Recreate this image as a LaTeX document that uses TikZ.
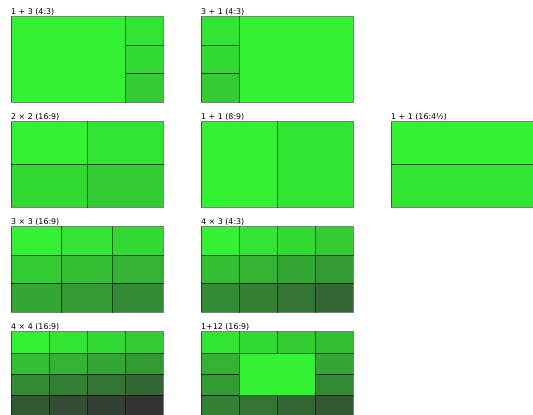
\documentclass[tikz,border=0pt]{standalone}
\usepackage{fontspec}
\newfontfamily\lblfont{DejaVu Sans}
\tikzset{
  cellstyle/.style={draw=black, draw opacity=0.5, line width=0.8pt},
  lbl/.style={anchor=base west, inner sep=0pt, font=\lblfont\fontsize{7.9}{9}\selectfont}
}
\newcommand\cellbox[5]{%
  \pgfmathtruncatemacro\gval{round(242-#5*191/15)}%
  \path[cellstyle, fill={rgb,255:red,51;green,\gval;blue,51}] (#1,#2) rectangle ++(#3,#4);}
\begin{document}
\begin{tikzpicture}[x=1pt,y=-1pt]
\useasboundingbox (0,0) rectangle (533,415);
\clip (0,0) rectangle (533,415);
% 1 + 3
\begin{scope}[shift={(11,16.75)}]
  \node[lbl] (l13) at (0,-2) {1 + 3 (4:3)};
  \cellbox{0}{0}{114}{85.5}{0}
  \cellbox{114}{0}{38}{28.5}{1}
  \cellbox{114}{28.5}{38}{28.5}{2}
  \cellbox{114}{57}{38}{28.5}{3}
\end{scope}
% 3 + 1
\begin{scope}[shift={(201,16.75)}]
  \node[lbl] (l31) at (0,-2) {3 + 1 (4:3)};
  \cellbox{0}{0}{38}{28.5}{1}
  \cellbox{0}{28.5}{38}{28.5}{2}
  \cellbox{0}{57}{38}{28.5}{3}
  \cellbox{38}{0}{114}{85.5}{0}
\end{scope}
% 2 x 2
\begin{scope}[shift={(11,121.75)}]
  \node[lbl] (l22) at (0,-2) {2 × 2 (16:9)};
  \foreach \r in {0,1}{\foreach \c in {0,1}{
    \pgfmathtruncatemacro\idx{\r*2+\c}
    \cellbox{\c*76}{\r*42.75}{76}{42.75}{\idx}}}
\end{scope}
% 1 + 1 (8:9)
\begin{scope}[shift={(201,121.75)}]
  \node[lbl] (l11a) at (0,-2) {1 + 1 (8:9)};
  \cellbox{0}{0}{76}{85.5}{0}
  \cellbox{76}{0}{76}{85.5}{1}
\end{scope}
% 1 + 1 (16:4 1/2)
\begin{scope}[shift={(391,121.75)}]
  \node[lbl] (l11b) at (0,-2) {1 + 1 (16:4½)};
  \cellbox{0}{0}{152}{42.75}{0}
  \cellbox{0}{42.75}{152}{42.75}{1}
\end{scope}
% 3 x 3
\begin{scope}[shift={(11,226.75)}]
  \node[lbl] (l33) at (0,-2) {3 × 3 (16:9)};
  \foreach \r in {0,1,2}{\foreach \c in {0,1,2}{
    \pgfmathtruncatemacro\idx{\r*3+\c}
    \cellbox{\c*50.6667}{\r*28.5}{50.6667}{28.5}{\idx}}}
\end{scope}
% 4 x 3
\begin{scope}[shift={(201,226.75)}]
  \node[lbl] (l43) at (0,-2) {4 × 3 (4:3)};
  \foreach \r in {0,1,2}{\foreach \c in {0,1,2,3}{
    \pgfmathtruncatemacro\idx{\r*4+\c}
    \cellbox{\c*38}{\r*28.5}{38}{28.5}{\idx}}}
\end{scope}
% 4 x 4
\begin{scope}[shift={(11,331.75)}]
  \node[lbl] (l44) at (0,-2) {4 × 4 (16:9)};
  \foreach \r in {0,1,2,3}{\foreach \c in {0,1,2,3}{
    \pgfmathtruncatemacro\idx{\r*4+\c}
    \cellbox{\c*38}{\r*21.375}{38}{21.375}{\idx}}}
\end{scope}
% 1 + 12
\begin{scope}[shift={(201,331.75)}]
  \node[lbl] (l112) at (0,-2) {1+12 (16:9)};
  \cellbox{0}{0}{38}{21.375}{1}
  \cellbox{38}{0}{38}{21.375}{2}
  \cellbox{76}{0}{38}{21.375}{3}
  \cellbox{114}{0}{38}{21.375}{4}
  \cellbox{0}{21.375}{38}{21.375}{5}
  \cellbox{114}{21.375}{38}{21.375}{6}
  \cellbox{0}{42.75}{38}{21.375}{7}
  \cellbox{114}{42.75}{38}{21.375}{8}
  \cellbox{0}{64.125}{38}{21.375}{9}
  \cellbox{38}{64.125}{38}{21.375}{10}
  \cellbox{76}{64.125}{38}{21.375}{11}
  \cellbox{114}{64.125}{38}{21.375}{12}
  \cellbox{38}{21.375}{76}{42.75}{0}
\end{scope}
\end{tikzpicture}
\end{document}
